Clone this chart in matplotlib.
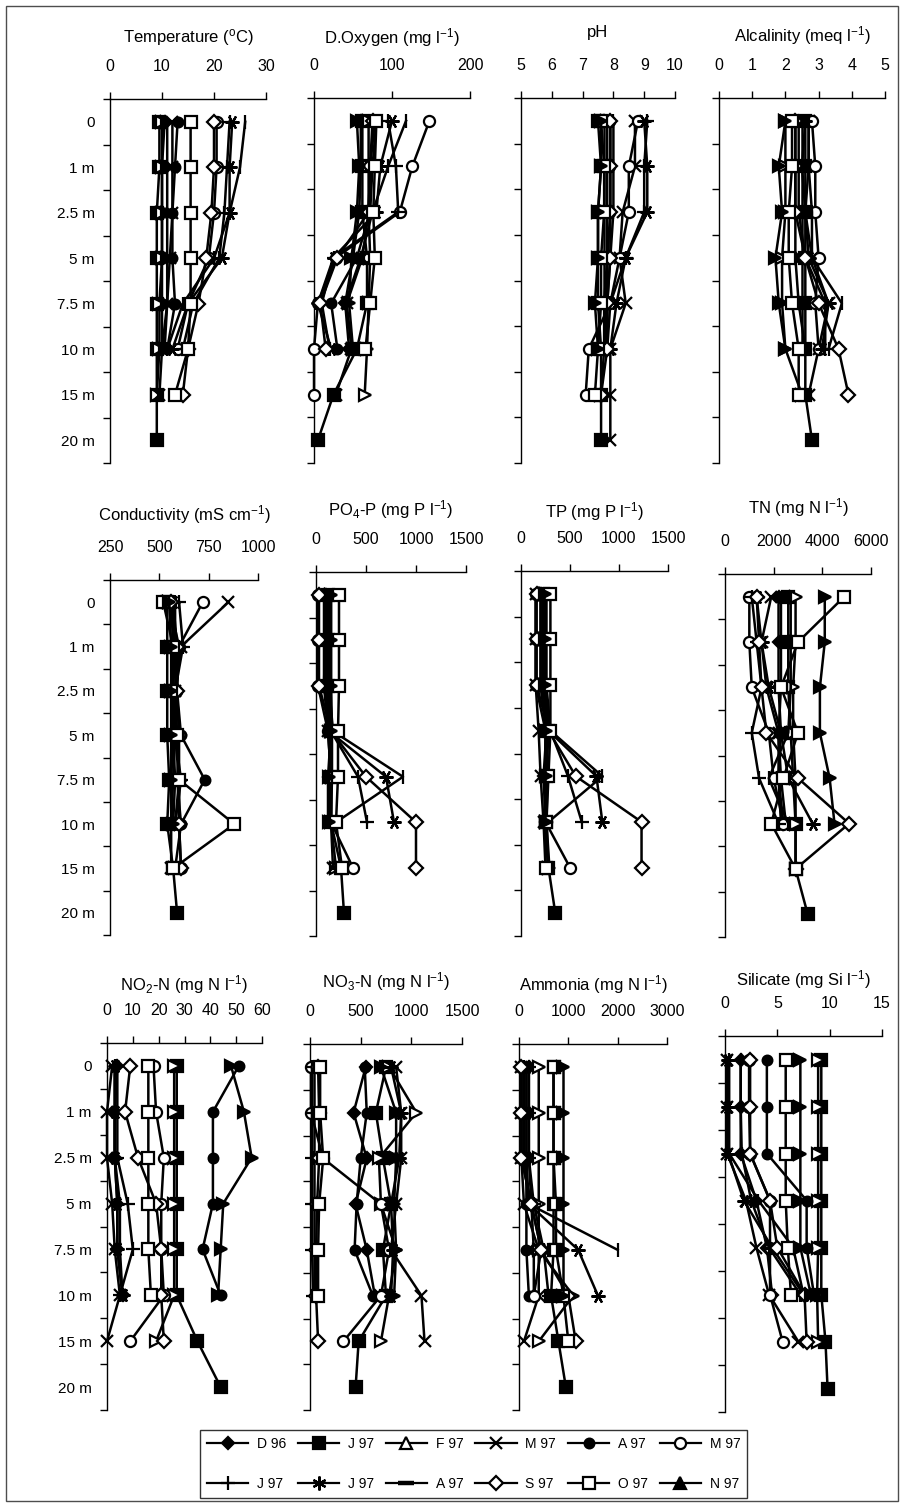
import numpy as np
import matplotlib
matplotlib.use("Agg")
import matplotlib.pyplot as plt
from matplotlib.lines import Line2D
from matplotlib.patches import Rectangle

plt.rcParams['font.family'] = ['Liberation Sans', 'DejaVu Sans']
plt.rcParams['mathtext.default'] = 'regular'

N = None
depths = ["0", "1 m", "2.5 m", "5 m", "7.5 m", "10 m", "15 m", "20 m"]
series = ["D 96", "J 97", "F 97", "M 97", "A 97", "M 97",
          "J 97", "J 97", "A 97", "S 97", "O 97", "N 97"]

# order of rows: D96, J97, F97, M97(x), A97(circle), M97(open circle),
# J97(+), J97(*), A97(dash), S97, O97, N97
temperature = [
    [10.5, 10, 10, 10, 10, 10, N, N],
    [9.5, 9.5, 9, 9, 9, 9, 9, 9],
    [10, 10, 10, 10, 9.5, 9.5, 9, N],
    [12, 12, 12, 11.5, 11, 10, 9.5, N],
    [13, 12.5, 12, 12, 12.5, 11, N, N],
    [20.5, 20.5, 20, 19, 15, 13, N, N],
    [23, 22.5, 22, 21, 16, 14, N, N],
    [23.5, 23, 23, 21.5, 15, 12, N, N],
    [26, 25, 23, 20, 14, 11, N, N],
    [20, 20, 19.5, 18.5, 17, 15, 14, N],
    [15.5, 15.5, 15.5, 15.5, 15.5, 15, 12.5, N],
    [11, 11, 11, 11, 11, 10.5, N, N],
]
oxygen = [
    [60, 60, 58, 50, 40, 45, N, N],
    [62, 62, 62, 68, 68, 55, 25, 5],
    [70, 70, 70, 72, 70, 68, 65, N],
    [78, 72, 70, 62, 42, 48, 28, N],
    [80, 75, 72, 55, 22, 30, N, N],
    [148, 126, 110, 28, 5, 0, 0, N],
    [95, 105, 108, 25, 10, 20, N, N],
    [100, 85, 80, 25, 5, 22, N, N],
    [118, 95, 75, 60, 40, 50, N, N],
    [75, 72, 70, 30, 8, 15, N, N],
    [80, 78, 76, 78, 72, 66, N, N],
    [55, 58, 55, 48, 45, 50, N, N],
]
ph = [
    [7.7, 7.7, 7.7, 7.7, 7.7, 7.7, N, N],
    [7.5, 7.6, 7.5, 7.5, 7.5, 7.6, 7.6, 7.6],
    [7.8, 7.8, 7.8, 7.8, 7.7, 7.7, 7.6, N],
    [8.7, 8.7, 8.3, 8.2, 8.4, 7.9, 7.9, 7.9],
    [7.9, 7.9, 7.9, 7.8, 7.8, 7.8, N, N],
    [8.8, 8.5, 8.5, 8.2, 7.9, 7.2, 7.1, N],
    [9.1, 9.0, 9.0, 8.4, 7.9, 7.8, N, N],
    [9.0, 9.1, 9.1, 8.4, 8.1, 7.9, N, N],
    [8.0, 8.0, 8.0, 7.9, 7.8, 7.7, N, N],
    [7.9, 7.9, 7.9, 7.9, 7.8, 7.8, 7.6, N],
    [7.6, 7.7, 7.7, 7.6, 7.6, 7.5, 7.4, N],
    [7.6, 7.6, 7.5, 7.5, 7.4, 7.5, N, N],
]
alcalinity = [
    [2.3, 2.3, 2.3, 2.3, 2.4, 2.6, N, N],
    [2.6, 2.6, 2.6, 2.6, 2.6, 2.6, 2.6, 2.8],
    [2.0, 2.0, 2.0, 1.9, 1.9, 2.0, 2.5, N],
    [2.7, 2.7, 2.6, 2.8, 3.3, 3.0, 2.7, N],
    [2.5, 2.5, 2.5, 2.5, 2.5, 2.5, N, N],
    [2.8, 2.9, 2.9, 3.0, 2.9, 3.0, N, N],
    [2.4, 2.4, 2.4, 2.6, 3.2, 3.2, N, N],
    [2.6, 2.5, 2.6, 2.7, 3.3, 3.1, N, N],
    [2.7, 2.7, 2.8, 2.8, 3.7, 3.3, N, N],
    [2.3, 2.3, 2.3, 2.6, 3.0, 3.6, 3.9, N],
    [2.2, 2.2, 2.1, 2.1, 2.2, 2.4, 2.4, N],
    [2.0, 1.8, 1.9, 1.7, 1.8, 2.0, N, N],
]
conductivity = [
    [560, 570, 570, 570, 560, 560, N, N],
    [540, 540, 540, 540, 550, 540, 570, 590],
    [550, 600, 590, 600, 590, 610, 580, N],
    [850, 610, 580, 580, 570, 560, 560, N],
    [560, 580, 590, 610, 730, 610, N, N],
    [720, 600, 580, 590, 600, 600, 610, N],
    [600, 620, 580, 580, 610, 580, N, N],
    [570, 590, 580, 580, 600, 580, N, N],
    [580, 580, 570, 570, 580, 570, N, N],
    [560, 590, 590, 600, 600, 600, 610, N],
    [520, 570, 560, 590, 600, 880, 570, N],
    [550, 560, 560, 560, 560, 570, N, N],
]
po4 = [
    [100, 100, 100, 150, 130, 150, N, N],
    [120, 120, 120, 150, 150, 150, 250, 280],
    [150, 150, 150, 160, 160, 150, 200, N],
    [90, 90, 80, 120, 150, 150, 170, N],
    [110, 110, 110, 150, 120, 120, N, N],
    [20, 20, 20, 120, 150, 150, 370, N],
    [80, 80, 80, 150, 420, 510, N, N],
    [100, 100, 100, 130, 700, 780, N, N],
    [130, 130, 130, 170, 870, 200, N, N],
    [30, 30, 30, 150, 500, 1000, 1000, N],
    [230, 230, 230, 220, 220, 200, 260, N],
    [150, 150, 150, 150, 130, 130, N, N],
]
tp = [
    [200, 200, 200, 260, 230, 250, N, N],
    [220, 220, 220, 280, 260, 260, 280, 350],
    [250, 250, 250, 260, 270, 260, 290, N],
    [150, 150, 150, 180, 200, 230, 250, N],
    [200, 200, 200, 260, 250, 240, N, N],
    [150, 150, 150, 250, 250, 250, 500, N],
    [230, 230, 230, 300, 480, 620, N, N],
    [240, 240, 240, 280, 770, 830, N, N],
    [260, 260, 260, 300, 830, 280, N, N],
    [160, 160, 160, 280, 560, 1230, 1230, N],
    [300, 300, 300, 300, 280, 260, 250, N],
    [240, 240, 240, 250, 250, 250, N, N],
]
tn = [
    [2200, 2200, 2200, 2300, 2200, 2400, N, N],
    [2600, 2600, 2600, 2700, 2800, 2900, 2900, 3400],
    [2900, 2900, 2800, 2800, 2900, 2900, 2900, N],
    [1900, 1500, 1700, 2200, 2300, 2500, N, N],
    [2300, 2300, 2300, 2200, 2200, 2300, N, N],
    [1000, 1000, 1100, 1800, 2000, 2400, N, N],
    [1100, 1300, 1500, 1100, 1400, 2200, N, N],
    [1300, 1500, 1800, 2300, 2600, 3600, N, N],
    [2700, 2700, 2700, 2600, 1800, 2600, N, N],
    [1300, 1400, 1500, 1700, 3000, 5100, 2900, N],
    [4900, 3000, 2300, 3000, 2400, 1900, 2900, N],
    [4100, 4100, 3900, 3900, 4300, 4500, N, N],
]
no2 = [
    [4, 3, 3, 4, 4, 6, N, N],
    [27, 27, 27, 27, 27, 27, 35, 44],
    [26, 26, 26, 26, 26, 26, 19, N],
    [2, 0, 0, 2, 3, 5, 0, N],
    [51, 41, 41, 41, 37, 44, N, N],
    [18, 19, 22, 21, 21, 22, 9, N],
    [4, 4, 4, 8, 10, 5, N, N],
    [3, 3, 3, 4, 4, 6, N, N],
    [3, 3, 3, 5, 5, 6, N, N],
    [9, 7, 12, 19, 21, 21, 22, N],
    [16, 16, 16, 16, 16, 17, N, N],
    [48, 53, 56, 45, 44, 43, N, N],
]
no3 = [
    [550, 430, 560, 450, 560, 640, N, N],
    [750, 650, 720, 800, 720, 750, 480, 450],
    [780, 1050, 680, 700, 850, 780, 700, N],
    [850, 900, 900, 850, 800, 1100, 1130, N],
    [540, 560, 500, 460, 440, 620, N, N],
    [10, 10, 130, 700, 780, 700, 330, N],
    [20, 20, 20, 20, 20, 30, N, N],
    [800, 900, 880, 800, 820, 800, N, N],
    [40, 40, 40, 40, 40, 40, N, N],
    [80, 90, 90, 70, 60, 60, 80, N],
    [100, 100, 130, 90, 80, 80, N, N],
    [700, 850, 850, 830, 850, 830, N, N],
]
ammonia = [
    [200, 200, 200, 250, 300, 300, N, N],
    [700, 700, 700, 700, 700, 650, 800, 950],
    [400, 400, 400, 400, 400, 1100, 400, N],
    [50, 50, 50, 100, 400, 400, 100, N],
    [150, 150, 150, 150, 150, 200, N, N],
    [50, 50, 50, 250, 450, 300, N, N],
    [200, 200, 200, 300, 500, 600, N, N],
    [150, 150, 150, 200, 1200, 1600, N, N],
    [100, 100, 100, 200, 2000, N, N, N],
    [50, 50, 50, 250, 450, 1000, 1150, N],
    [700, 700, 700, 750, 750, 900, 1000, N],
    [900, 900, 900, 900, 900, 900, N, N],
]
silicate = [
    [1.5, 1.5, 1.5, 3, 4, 4.5, N, N],
    [9.2, 9.2, 9.2, 9.2, 9.2, 9.2, 9.6, 9.8],
    [8.9, 8.9, 8.9, 8.9, 8.9, 8.8, 8.9, N],
    [0.2, 0.2, 0.2, 2, 3, 4.2, 7, N],
    [4, 4, 4, 7.8, 7.8, 8.5, N, N],
    [2.3, 2.3, 2.4, 4.3, 4.3, 4.3, 5.5, N],
    [1.5, 1.5, 1.6, 2.5, 4.2, 7.2, N, N],
    [0.3, 0.3, 0.3, 1.8, 4.5, 7.5, N, N],
    [0.4, 0.4, 0.4, 3.2, 6.5, 7.5, N, N],
    [2.4, 2.4, 2.4, 4.3, 5, 7.6, 7.8, N],
    [5.8, 5.8, 5.8, 5.8, 6, 6.3, N, N],
    [7.2, 7.2, 7.2, 7.2, 7.2, 8.2, N, N],
]

W, H = 905, 1504
fig = plt.figure(figsize=(W / 100, H / 100), dpi=100)

# marker styles: (marker, facecolor, size, edgewidth) for panels and for legend
panel_markers = [('D', 'k', 6, 1.6), ('s', 'k', 8, 1.6), ('>', 'w', 8, 1.6),
                 ('x', 'k', 8, 1.6), ('o', 'k', 7, 1.6), ('o', 'w', 8, 1.6),
                 ('+', 'k', 10, 1.6), ((6, 2, 90), 'k', 10, 1.6),
                 ('|', 'k', 10, 1.6), ('D', 'w', 7, 1.6), ('s', 'w', 9, 1.6),
                 ('>', 'k', 8, 1.6)]
legend_markers = [('D', 'k', 6, 1.6), ('s', 'k', 8, 1.6), ('^', 'w', 8, 1.6),
                  ('x', 'k', 8, 1.6), ('o', 'k', 7, 1.6), ('o', 'w', 8, 1.6),
                  ('+', 'k', 10, 1.6), ((6, 2, 0), 'k', 10, 1.6),
                  ('_', 'k', 11, 3.2), ('D', 'w', 7, 1.6), ('s', 'w', 9, 1.6),
                  ('^', 'k', 8, 1.6)]

# layout: title, data, xmin, xmax, xstep, x0, x1, ytop, ybot, title_y, labels?
panels = [
    ("Temperature ($^{o}$C)", temperature, 0, 30, 10, 110, 266, 99, 463, 38, True),
    ("D.Oxygen (mg l$^{-1}$)", oxygen, 0, 200, 100, 314, 470, 98, 463, 38, False),
    ("pH", ph, 5, 10, 1, 521, 675, 98, 463, 32, False),
    ("Alcalinity (meq l$^{-1}$)", alcalinity, 0, 5, 1, 719, 885, 98, 463, 36, False),
    ("Conductivity (mS cm$^{-1}$)", conductivity, 250, 1000, 250, 110, 258, 580, 935, 515, True),
    ("PO$_{4}$-P (mg P l$^{-1}$)", po4, 0, 1500, 500, 316, 466, 572, 936, 510, False),
    ("TP (mg P l$^{-1}$)", tp, 0, 1500, 500, 521, 668, 571, 936, 512, False),
    ("TN (mg N l$^{-1}$)", tn, 0, 6000, 2000, 725, 871, 574, 937, 508, False),
    ("NO$_{2}$-N (mg N l$^{-1}$)", no2, 0, 60, 10, 107, 262, 1043, 1410, 985, True),
    ("NO$_{3}$-N (mg N l$^{-1}$)", no3, 0, 1500, 500, 310, 462, 1044, 1410, 982, False),
    ("Ammonia (mg N l$^{-1}$)", ammonia, 0, 3000, 1000, 519, 667, 1044, 1410, 985, False),
    ("Silicate (mg Si l$^{-1}$)", silicate, 0, 15, 5, 725, 882, 1036, 1412, 980, False),
]

ypos = np.arange(len(depths))
for (title, data, xmin, xmax, xstep, x0, x1, ytop, ybot, ty, showlab) in panels:
    ax = fig.add_axes([x0 / W, 1 - ybot / H, (x1 - x0) / W, (ybot - ytop) / H])
    for i, row in enumerate(data):
        vals = np.array([np.nan if v is None else v for v in row], dtype=float)
        m, fc, ms, mew = panel_markers[i]
        ax.plot(vals, ypos, color='k', lw=1.8, marker=m, markersize=ms,
                markerfacecolor=fc, markeredgecolor='k', markeredgewidth=mew,
                clip_on=False, zorder=3)
    ax.set_xlim(xmin, xmax)
    ax.set_ylim(len(depths) - 0.5, -0.5)
    ax.set_xticks(np.arange(xmin, xmax + xstep / 2, xstep))
    ax.xaxis.tick_top()
    ax.tick_params(axis='x', direction='out', length=5, width=1, pad=13,
                   labelsize=11.5)
    ax.set_yticks(ypos)
    ax.set_yticks(np.arange(-0.5, len(depths), 1.0), minor=True)
    ax.tick_params(axis='y', which='major', length=0, pad=11, labelsize=11)
    ax.tick_params(axis='y', which='minor', direction='out', length=5, width=1)
    if showlab:
        ax.set_yticklabels(depths)
    else:
        ax.set_yticklabels([])
    for s in ['right', 'bottom']:
        ax.spines[s].set_visible(False)
    ax.spines['top'].set_linewidth(1)
    ax.spines['left'].set_linewidth(1)
    ax.patch.set_alpha(0)
    fig.text((x0 + x1) / 2 / W, 1 - ty / H, title, ha='center', va='center',
             fontsize=12)

# legend (row-wise order)
handles = []
for i in range(len(series)):
    m, fc, ms, mew = legend_markers[i]
    handles.append(Line2D([], [], color='k', lw=1.6, marker=m, markersize=ms,
                          markerfacecolor=fc, markeredgecolor='k',
                          markeredgewidth=mew))
order = [0, 6, 1, 7, 2, 8, 3, 9, 4, 10, 5, 11]
leg = fig.legend([handles[k] for k in order], [series[k] for k in order],
                 ncol=6, loc='center',
                 bbox_to_anchor=((197 + 750) / 2 / W, 1 - 1464 / H),
                 fontsize=10, frameon=True, fancybox=False, edgecolor='k',
                 handlelength=3.0, handletextpad=0.6, columnspacing=0.85,
                 labelspacing=1.9, borderpad=0.5)
leg.get_frame().set_linewidth(1)

fig.patches.append(Rectangle((6 / W, 1 - 1501 / H), (898 - 6) / W, (1501 - 6) / H,
                             transform=fig.transFigure, fill=False,
                             edgecolor='0.3', lw=1))

fig.savefig("out.png", dpi=100)
